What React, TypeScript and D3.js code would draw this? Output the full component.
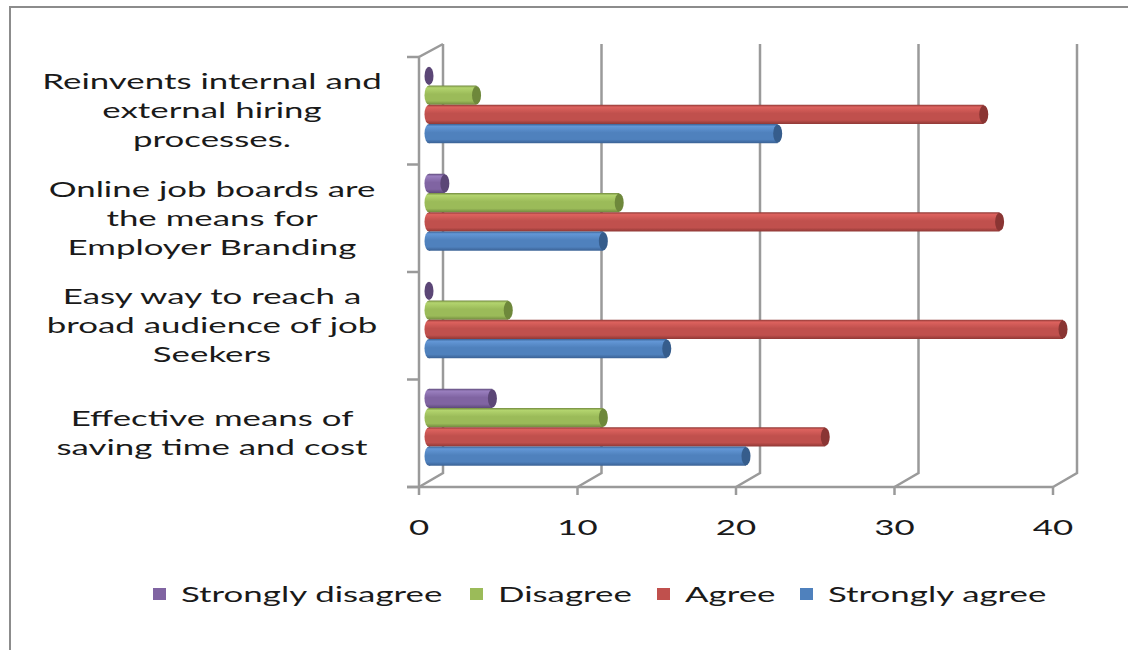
import React from "react";
import * as d3 from "d3";

// Survey responses per statement (count of respondents)
const categories = [
  ["Reinvents internal and", "external hiring", "processes."],
  ["Online job boards are", "the means for", "Employer Branding"],
  ["Easy way to reach a", "broad audience of job", "Seekers"],
  ["Effective means of", "saving time and cost"],
];
const seriesNames = ["Strongly disagree", "Disagree", "Agree", "Strongly agree"];
const stronglyDisagree = [0, 1, 0, 4];
const disagree = [3, 12, 5, 11];
const agree = [35, 36, 40, 25];
const stronglyAgree = [22, 11, 15, 20];
const tickValues = [0, 10, 20, 30, 40];

const seriesValues = [stronglyDisagree, disagree, agree, stronglyAgree];
const palette = [
  { base: "#8064A2", light: "#9a7fbf", dark: "#5e4a7a", cap: "#5b4676" },
  { base: "#9BBB59", light: "#b3d46e", dark: "#728a3f", cap: "#6e883b" },
  { base: "#C0504D", light: "#dd625e", dark: "#8f3835", cap: "#8a3533" },
  { base: "#4F81BD", light: "#6397d6", dark: "#3a6194", cap: "#365d8c" },
];

const W = 1128;
const H = 650;
const SX = 1.66; // horizontal stretch of the text
const FONT = "Lato, 'Open Sans', sans-serif";

// Front plane of the 3-D box and its depth offset
const left = 419;
const right = 1053;
const top = 57;
const bottom = 487;
const depth = { dx: 24, dy: -14 };
const barDepth = { dx: 10, dy: -6 };

export default function App() {
  const x = d3.scaleLinear().domain([0, 40]).range([left, right]);
  const y = d3
    .scaleBand<number>()
    .domain(d3.range(categories.length))
    .range([top, bottom])
    .paddingInner(0.284)
    .paddingOuter(0.142);
  const inner = d3
    .scaleBand<number>()
    .domain(d3.range(seriesNames.length))
    .range([0, y.bandwidth()]);
  const h = inner.bandwidth();
  const rx = 4.5;

  const grid = "#9a9a9a";
  const catTicks = d3.range(categories.length + 1).map((i) => top + (i * (bottom - top)) / categories.length);

  return (
    <svg width={W} height={H} style={{ position: "absolute", left: 0, top: 0, background: "#fff" }}>
      <defs>
        {palette.map((c, i) => (
          <linearGradient key={i} id={`cyl${i}`} x1="0" y1="0" x2="0" y2="1">
            <stop offset="0" stopColor={c.dark} />
            <stop offset="0.12" stopColor={c.light} />
            <stop offset="0.45" stopColor={c.base} />
            <stop offset="0.8" stopColor={c.base} />
            <stop offset="1" stopColor={c.dark} />
          </linearGradient>
        ))}
      </defs>

      {/* outer frame */}
      <path d={`M10,${H} L10,7 L${W},7`} fill="none" stroke="#8c8c8c" strokeWidth={2} />

      {/* back wall gridlines with floor diagonals */}
      {tickValues.map((t) => (
        <path
          key={t}
          d={`M${x(t) + depth.dx},${top - 13} L${x(t) + depth.dx},${bottom + depth.dy} L${x(t)},${bottom}`}
          fill="none"
          stroke={grid}
          strokeWidth={2.5}
        />
      ))}
      {/* floor front edge and ticks */}
      <line x1={left - 12} x2={right} y1={bottom} y2={bottom} stroke={grid} strokeWidth={2.5} />
      {tickValues.map((t) => (
        <line key={t} x1={x(t)} x2={x(t)} y1={bottom} y2={bottom + 8} stroke={grid} strokeWidth={2.5} />
      ))}
      {/* side wall */}
      <path d={`M${left},${bottom} L${left},${top} L${left + depth.dx},${top - 13}`} fill="none" stroke={grid} strokeWidth={2.5} />
      {catTicks.map((cy, i) => (
        <line key={i} x1={left - 12} x2={left} y1={cy} y2={cy} stroke={grid} strokeWidth={2.5} />
      ))}

      {/* cylinders */}
      {categories.map((_, ci) =>
        seriesValues.map((vals, si) => {
          const v = vals[ci];
          const y0 = (y(ci) as number) + (inner(si) as number) + barDepth.dy;
          const x0 = x(0) + barDepth.dx;
          const x1 = x(v) + barDepth.dx;
          const cy = y0 + h / 2;
          return (
            <g key={`${ci}-${si}`}>
              {v > 0 && (
                <>
                  <ellipse cx={x0} cy={cy} rx={rx} ry={h / 2} fill={`url(#cyl${si})`} />
                  <rect x={x0} y={y0} width={x1 - x0} height={h} fill={`url(#cyl${si})`} />
                </>
              )}
              <ellipse cx={x1} cy={cy} rx={rx} ry={h / 2 - 0.5} fill={palette[si].cap} />
            </g>
          );
        })
      )}

      {/* category labels */}
      {categories.map((lines, ci) => {
        const cyc = (y(ci) as number) + y.bandwidth() / 2;
        const start = cyc - ((lines.length - 1) * 29) / 2;
        return lines.map((ln, li) => (
          <text
            key={`${ci}-${li}`}
            transform={`translate(212,${start + li * 29 + 7.5}) scale(${SX},1)`}
            textAnchor="middle"
            fontFamily={FONT}
            fontSize={21}
            fill="#1a1a1a"
          >
            {ln}
          </text>
        ));
      })}

      {/* value axis labels */}
      {tickValues.map((t) => (
        <text
          key={t}
          transform={`translate(${x(t)},535) scale(${SX},1)`}
          textAnchor="middle"
          fontFamily={FONT}
          fontSize={21}
          fill="#1a1a1a"
        >
          {t}
        </text>
      ))}

      {/* legend */}
      {seriesNames.map((name, si) => {
        const lx = [153, 470, 657, 800][si];
        return (
          <g key={name}>
            <rect x={lx} y={588} width={13} height={12} fill={palette[si].base} />
            <text
              transform={`translate(${lx + 28},602) scale(${SX},1)`}
              fontFamily={FONT}
              fontSize={21}
              fill="#1a1a1a"
            >
              {name}
            </text>
          </g>
        );
      })}
    </svg>
  );
}
